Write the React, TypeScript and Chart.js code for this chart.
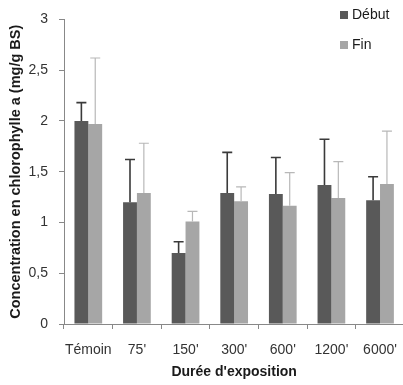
import React, { useEffect, useRef } from "react";
import { Chart, registerables } from "chart.js";

Chart.register(...registerables);

const categories = ["Témoin", "75'", "150'", "300'", "600'", "1200'", "6000'"];
const debutValues = [2.0, 1.2, 0.7, 1.29, 1.28, 1.37, 1.22];
const debutErrTop = [2.18, 1.62, 0.81, 1.69, 1.64, 1.82, 1.45];
const finValues = [1.97, 1.29, 1.01, 1.21, 1.165, 1.24, 1.38];
const finErrTop = [2.62, 1.78, 1.11, 1.35, 1.49, 1.6, 1.9];
const yTicks = [0, 0.5, 1, 1.5, 2, 2.5, 3];

const DEBUT_COLOR = "#595959";
const FIN_COLOR = "#a6a6a6";
const FONT = "'Liberation Sans', Arial, sans-serif";

const errorBarPlugin = {
  id: "errorBars",
  afterDatasetsDraw(chart: any) {
    const ctx = chart.ctx;
    const yScale = chart.scales.y;
    const tops = [debutErrTop, finErrTop];
    const styles = [
      { color: "#3a3a3a", width: 1.6 },
      { color: "#b8b8b8", width: 1.2 },
    ];
    chart.data.datasets.forEach((_ds: any, di: number) => {
      const meta = chart.getDatasetMeta(di);
      meta.data.forEach((el: any, i: number) => {
        const yTop = yScale.getPixelForValue(tops[di][i]);
        ctx.save();
        ctx.strokeStyle = styles[di].color;
        ctx.lineWidth = styles[di].width;
        ctx.beginPath();
        ctx.moveTo(el.x, el.y);
        ctx.lineTo(el.x, yTop);
        ctx.moveTo(el.x - 5, yTop);
        ctx.lineTo(el.x + 5, yTop);
        ctx.stroke();
        ctx.restore();
      });
    });
  },
};

const legendPlugin = {
  id: "customLegend",
  afterDraw(chart: any) {
    const ctx = chart.ctx;
    const items = [
      { label: "Début", color: DEBUT_COLOR, y: 15 },
      { label: "Fin", color: FIN_COLOR, y: 45 },
    ];
    ctx.save();
    items.forEach((it) => {
      ctx.fillStyle = it.color;
      ctx.fillRect(340, it.y - 4, 8, 8);
      ctx.fillStyle = "#1a1a1a";
      ctx.font = `14px ${FONT}`;
      ctx.textBaseline = "middle";
      ctx.textAlign = "left";
      ctx.fillText(it.label, 352, it.y + 0.5);
    });
    ctx.restore();
  },
};

export default function App() {
  const ref = useRef<HTMLCanvasElement | null>(null);

  useEffect(() => {
    if (!ref.current) return;
    const chart = new Chart(ref.current, {
      type: "bar",
      data: {
        labels: categories,
        datasets: [
          {
            label: "Début",
            data: debutValues,
            backgroundColor: DEBUT_COLOR,
            categoryPercentage: 0.57,
            barPercentage: 1.0,
          },
          {
            label: "Fin",
            data: finValues,
            backgroundColor: FIN_COLOR,
            categoryPercentage: 0.57,
            barPercentage: 1.0,
          },
        ],
      },
      options: {
        responsive: false,
        animation: false,
        layout: { padding: { left: 7, right: 1, top: 15, bottom: 4 } },
        plugins: {
          legend: { display: false },
          tooltip: { enabled: false },
        },
        scales: {
          x: {
            offset: true,
            grid: {
              offset: true,
              drawOnChartArea: false,
              drawTicks: true,
              tickLength: 5,
              color: "#888888",
            },
            border: { display: true, color: "#888888", width: 1 },
            ticks: {
              color: "#333333",
              font: { family: FONT, size: 14 },
              padding: 13,
              maxRotation: 0,
              autoSkip: false,
            },
            title: {
              display: true,
              text: "Durée d'exposition",
              color: "#1a1a1a",
              font: { family: FONT, size: 14, weight: "bold" },
              padding: { top: 0, bottom: 0 },
            },
            afterFit(scale: any) {
              scale.height = 385 - 324 - 4;
            },
          },
          y: {
            min: 0,
            max: 3,
            afterBuildTicks(scale: any) {
              scale.ticks = yTicks.map((v) => ({ value: v }));
            },
            grid: {
              drawOnChartArea: false,
              drawTicks: true,
              tickLength: 5,
              color: "#888888",
            },
            border: { display: true, color: "#888888", width: 1 },
            ticks: {
              color: "#333333",
              font: { family: FONT, size: 14 },
              padding: 11,
              callback: (v: any) => String(v).replace(".", ","),
            },
            title: {
              display: true,
              text: "Concentration en chlorophylle a (mg/g BS)",
              color: "#1a1a1a",
              font: { family: FONT, size: 14.5, weight: "bold" },
              padding: { top: 0, bottom: 1 },
            },
            afterFit(scale: any) {
              scale.width = 64 - 7;
            },
          },
        },
      },
      plugins: [errorBarPlugin, legendPlugin],
    });
    return () => chart.destroy();
  }, []);

  return (
    <div
      style={{
        position: "fixed",
        left: 0,
        top: 0,
        width: 403,
        height: 385,
        overflow: "hidden",
        background: "#ffffff",
      }}
    >
      <canvas ref={ref} width={410} height={385} style={{ width: 410, height: 385, display: "block" }} />
    </div>
  );
}
